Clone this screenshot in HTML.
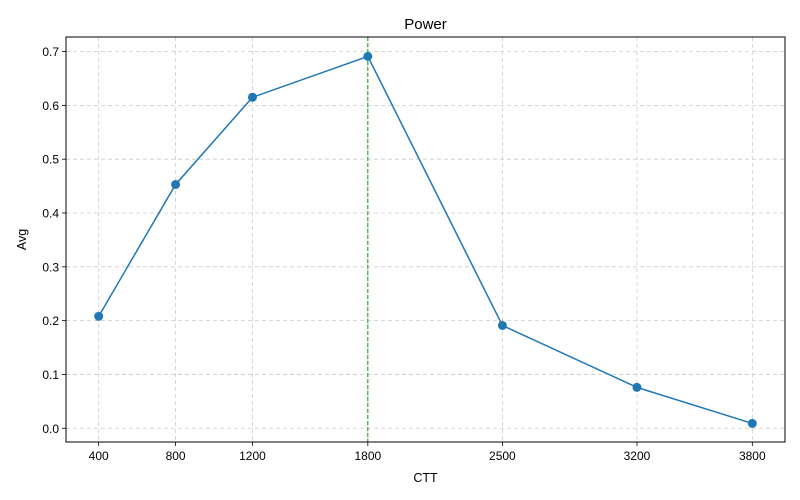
<!DOCTYPE html>
<html><head><meta charset="utf-8"><style>
html,body{margin:0;padding:0;background:#fff;}
svg{display:block;font-family:"Liberation Sans","DejaVu Sans",sans-serif;}
</style></head><body>
<svg id="chart" width="800" height="500"></svg>
<script>
const categories = [400, 800, 1200, 1800, 2500, 3200, 3800];
const avgValues = [0.208, 0.453, 0.615, 0.691, 0.191, 0.076, 0.009];
const yTickLabels = ["0.0","0.1","0.2","0.3","0.4","0.5","0.6","0.7"];
const markerX = 1800;

const L=66, R=785, T=37, B=442;
const xMin=230, xMax=3970, yMin=-0.0255, yMax=0.727;
const sx = v => L + (v - xMin) / (xMax - xMin) * (R - L);
const sy = v => B - (v - yMin) / (yMax - yMin) * (B - T);
const NS="http://www.w3.org/2000/svg";
const svg=document.getElementById('chart');
function mk(tag, attrs, parent){const e=document.createElementNS(NS,tag);for(const k in attrs)e.setAttribute(k,attrs[k]);(parent||svg).appendChild(e);return e;}

categories.forEach(c=>{
  const g=mk('line',{x1:sx(c),x2:sx(c),y1:T,y2:B,stroke:'#cccccc','stroke-dasharray':'4,3','stroke-width':0.8});
  
  
});
yTickLabels.forEach(t=>{
  const v=parseFloat(t);
  const g=mk('line',{x1:L,x2:R,y1:sy(v),y2:sy(v),stroke:'#cccccc','stroke-dasharray':'4,3','stroke-width':0.8});
  
  
});
const vm=mk('line',{x1:sx(markerX),x2:sx(markerX),y1:T,y2:B,stroke:'#00a000','stroke-dasharray':'4,2','stroke-width':1});


const pts=categories.map((c,i)=>sx(c)+','+sy(avgValues[i])).join(' ');
const pl=mk('polyline',{points:pts,fill:'none',stroke:'#1f77b4','stroke-width':1.5});


categories.forEach((c,i)=>{
  const p=mk('circle',{cx:sx(c),cy:sy(avgValues[i]),r:4.5,fill:'#1f77b4'});
  
  
});
const fr=mk('rect',{x:L,y:T,width:R-L,height:B-T,fill:'none',stroke:'#000','stroke-width':1});


categories.forEach(c=>{
  mk('line',{x1:sx(c),x2:sx(c),y1:B,y2:B+4,stroke:'#000','stroke-width':0.8});
  const t=mk('text',{x:sx(c),y:B+18,'text-anchor':'middle','font-size':12,fill:'#000'});
  t.textContent=c;
  
  
});
yTickLabels.forEach(s=>{
  const v=parseFloat(s);
  mk('line',{x1:L-4,x2:L,y1:sy(v),y2:sy(v),stroke:'#000','stroke-width':0.8});
  const t=mk('text',{x:L-7,y:sy(v)+4.5,'text-anchor':'end','font-size':12,fill:'#000'});
  t.textContent=s;
  
  
});
const title=mk('text',{x:(L+R)/2,y:29,'text-anchor':'middle','font-size':15,fill:'#000'});
title.textContent='Power';


const xt=mk('text',{x:(L+R)/2,y:482,'text-anchor':'middle','font-size':12.5,fill:'#000'});
xt.textContent='CTT';


const yt=mk('text',{x:0,y:0,'text-anchor':'middle','font-size':12.5,fill:'#000',transform:'translate(26,'+((T+B)/2)+') rotate(-90)'});
yt.textContent='Avg';


</script>
</body></html>
